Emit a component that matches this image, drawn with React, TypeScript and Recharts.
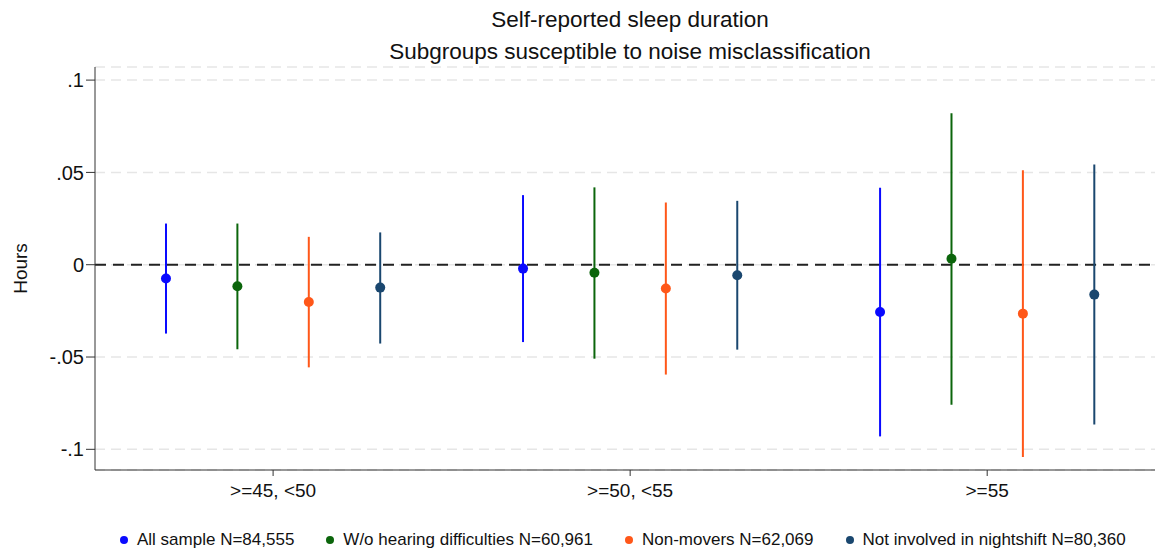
import React, { useEffect } from 'react'
import {
  ComposedChart,
  Scatter,
  ErrorBar,
  XAxis,
  YAxis,
  CartesianGrid,
  ReferenceLine
} from 'recharts'

// Noise exposure bands on the x axis
const categories = ['>=45, <50', '>=50, <55', '>=55']

const seriesNames = [
  'All sample N=84,555',
  'W/o hearing difficulties N=60,961',
  'Non-movers N=62,069',
  'Not involved in nightshift N=80,360'
]
const seriesColors = ['#0a0aff', '#0b650b', '#ff5719', '#1a476f']

// Point estimates (hours), one value per band
const allSampleEst = [-0.0075, -0.0021, -0.0256]
const noHearingEst = [-0.0117, -0.0044, 0.0032]
const nonMoversEst = [-0.0202, -0.0129, -0.0265]
const noNightshiftEst = [-0.0124, -0.0057, -0.0162]

// 95% confidence bounds
const allSampleLow = [-0.0373, -0.0419, -0.093]
const allSampleHigh = [0.0223, 0.0377, 0.0417]
const noHearingLow = [-0.0458, -0.0509, -0.0758]
const noHearingHigh = [0.0223, 0.0419, 0.082]
const nonMoversLow = [-0.0556, -0.0595, -0.1042]
const nonMoversHigh = [0.0151, 0.0337, 0.0512]
const noNightshiftLow = [-0.0427, -0.046, -0.0865]
const noNightshiftHigh = [0.0175, 0.0346, 0.0543]

const yTicks = [-0.1, -0.05, 0, 0.05, 0.1]

const estimates = [allSampleEst, noHearingEst, nonMoversEst, noNightshiftEst]
const lows = [allSampleLow, noHearingLow, nonMoversLow, noNightshiftLow]
const highs = [allSampleHigh, noHearingHigh, nonMoversHigh, noNightshiftHigh]

// each band holds 4 slots plus one empty slot as a gap
const slotsPerGroup = 5
const groupCenters = categories.map((_, g) => g * slotsPerGroup + 1.5)

const seriesData = estimates.map((est, s) =>
  est.map((value, g) => ({
    x: g * slotsPerGroup + s,
    y: value,
    err: [value - lows[s][g], highs[s][g] - value]
  }))
)

const formatY = (v: number) => {
  if (v === 0) return '0'
  return String(v).replace('0.', '.')
}

const font = '"Liberation Sans", Arial, sans-serif'

const App: React.FC = () => {
  useEffect(() => {
    document.body.style.margin = '0'
  }, [])

  return (
    <div style={{ position: 'relative', width: 1157, height: 554, background: '#fff', fontFamily: font }}>
      {/* two-line title, centred over the plot area */}
      <div
        style={{
          position: 'absolute',
          top: 4,
          left: 95,
          width: 1070,
          textAlign: 'center',
          fontSize: 22.5,
          lineHeight: '32px',
          color: '#111'
        }}
      >
        <div>Self-reported sleep duration</div>
        <div>Subgroups susceptible to noise misclassification</div>
      </div>

      <ComposedChart
        width={1157}
        height={554}
        margin={{ top: 67, right: 2, left: 0, bottom: 54 }}
      >
        <CartesianGrid
          horizontal
          vertical={false}
          stroke="#e6e6e6"
          strokeDasharray="10 6"
          strokeWidth={1.5}
        />
        <XAxis
          type="number"
          dataKey="x"
          height={30}
          domain={[-0.994, 13.85]}
          ticks={groupCenters}
          tickFormatter={(v: number) => categories[groupCenters.indexOf(v)] ?? ''}
          allowDataOverflow
          stroke="#333"
          tickSize={6}
          tick={{ fill: '#111', fontSize: 19, fontFamily: font, dy: 6 }}
        />
        <YAxis
          type="number"
          dataKey="y"
          width={95}
          domain={[-0.1112, 0.1071]}
          ticks={yTicks}
          tickFormatter={formatY}
          allowDataOverflow
          stroke="#333"
          tickSize={9}
          tick={{ fill: '#111', fontSize: 20, fontFamily: font }}
          label={{
            value: 'Hours',
            angle: -90,
            position: 'insideLeft',
            offset: 20,
            style: { fill: '#111', fontSize: 19, fontFamily: font, textAnchor: 'middle' }
          }}
        />
        <ReferenceLine y={0} stroke="#222" strokeWidth={2} strokeDasharray="11 7" />
        {seriesData.map((data, s) => (
          <Scatter
            key={seriesNames[s]}
            name={seriesNames[s]}
            data={data}
            fill={seriesColors[s]}
            isAnimationActive={false}
            shape={(props: any) => (
              <circle cx={props.cx} cy={props.cy} r={5} fill={seriesColors[s]} />
            )}
          >
            <ErrorBar
              dataKey="err"
              direction="y"
              width={0}
              stroke={seriesColors[s]}
              strokeWidth={2}
              isAnimationActive={false}
            />
          </Scatter>
        ))}
      </ComposedChart>

      <div
        style={{
          position: 'absolute',
          top: 530,
          left: 120,
          display: 'flex',
          gap: 32,
          fontSize: 17,
          color: '#111',
          whiteSpace: 'nowrap'
        }}
      >
        {seriesNames.map((name, s) => (
          <div key={name} style={{ display: 'flex', alignItems: 'center' }}>
            <span
              style={{
                display: 'inline-block',
                width: 8,
                height: 8,
                borderRadius: 4,
                background: seriesColors[s],
                marginRight: 9
              }}
            />
            {name}
          </div>
        ))}
      </div>
    </div>
  )
}

export default App
